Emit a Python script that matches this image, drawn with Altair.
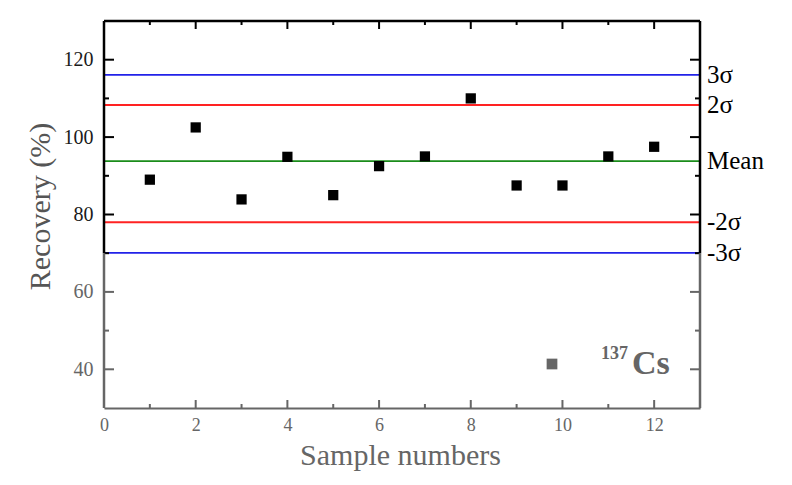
import altair as alt
import pandas as pd

# ---- data ----
samples = [1, 2, 3, 4, 5, 6, 7, 8, 9, 10, 11, 12]
recovery = [89.0, 102.5, 83.9, 94.9, 85.0, 92.5, 95.0, 110.0, 87.5, 87.5, 95.0, 97.5]

ref_labels = ["3σ", "2σ", "Mean", "-2σ", "-3σ"]
ref_values = [116.1, 108.3, 93.8, 78.0, 70.1]

x_major = [0, 2, 4, 6, 8, 10, 12]
x_minor = [1, 3, 5, 7, 9, 11]
y_major = [40, 60, 80, 100, 120]
y_minor = [50, 70, 90, 110]

legend_label = ["Cs"]
legend_super = ["137"]

# ---- styling ----
W, H = 596, 387
SERIF = "Liberation Serif"
GRAY = "#666666"
ref_colors = ["#2222e8", "#ff2222", "#1a8c1a", "#ff2222", "#2222e8"]

xs = alt.Scale(domain=[0, 13], nice=False, zero=False)
ys = alt.Scale(domain=[30, 130], nice=False, zero=False)

xaxis = alt.Axis(values=x_major, ticks=False, domain=True, domainColor=GRAY,
                 domainWidth=2, grid=False, labelFont=SERIF, labelFontSize=18,
                 labelColor=GRAY, labelPadding=8, labelFlush=False, format="d",
                 title="Sample numbers", titleFont=SERIF, titleFontSize=30,
                 titleFontWeight="normal", titleColor=GRAY,
                 titleX=296, titleY=56, titleBaseline="alphabetic")
yaxis = alt.Axis(values=y_major, ticks=False, domain=False, grid=False,
                 labelFont=SERIF, labelFontSize=20, labelPadding=11, format="d",
                 labelFlush=False,
                 labelColor=alt.ExprRef("datum.value >= 70 ? '#1a1a1a' : '#666666'"),
                 title="Recovery (%)", titleFont=SERIF, titleFontSize=30,
                 titleFontWeight="normal", titleColor="#555555",
                 titleX=-64, titleY=185, titleBaseline="middle")


def X(field):
    return alt.X(field, type="quantitative", scale=xs, axis=xaxis)


def Y(field):
    return alt.Y(field, type="quantitative", scale=ys, axis=yaxis)


pts = pd.DataFrame({"sample": samples, "rec": recovery})
refs = pd.DataFrame({"label": ref_labels, "v": ref_values})

points = alt.Chart(pts).mark_square(size=105, color="black", opacity=1).encode(
    x=X("sample"), y=Y("rec"))

ref_lines = alt.Chart(refs).mark_rule(strokeWidth=1.8).encode(
    y=Y("v"),
    color=alt.Color("label:N", scale=alt.Scale(domain=ref_labels, range=ref_colors), legend=None),
)

ref_text = alt.Chart(refs).mark_text(align="left", baseline="middle", font=SERIF,
                                     fontSize=25, color="black", dx=7).encode(
    x=alt.value(W), y=Y("v"), text="label:N")


def xticks(vals, y0, y1, color):
    return alt.Chart(pd.DataFrame({"t": vals})).mark_rule(color=color, strokeWidth=2).encode(
        x=X("t"), y=alt.value(y0), y2=alt.value(y1))


def yticks(vals, x0, x1):
    return alt.Chart(pd.DataFrame({"t": vals})).mark_rule(strokeWidth=2).encode(
        y=Y("t"), x=alt.value(x0), x2=alt.value(x1),
        color=alt.condition("datum.t >= 70", alt.value("black"), alt.value(GRAY)))


ticks = [
    xticks(x_major, H, H - 8, GRAY), xticks(x_minor, H, H - 4, GRAY),
    xticks(x_major, 0, 8, "black"), xticks(x_minor, 0, 4, "black"),
    yticks(y_major, 0, 10), yticks(y_minor, 0, 5),
    yticks(y_major, W, W - 10), yticks(y_minor, W, W - 5),
]

one = pd.DataFrame({"a": [0]})


def side(xpix, top, bottom, color):
    return alt.Chart(one).mark_rule(color=color, strokeWidth=2.5).encode(
        x=alt.value(xpix), y=alt.datum(top, scale=ys, axis=yaxis), y2=alt.datum(bottom))


frame = [
    alt.Chart(one).mark_rule(color="black", strokeWidth=2.5).encode(
        x=alt.value(0), x2=alt.value(W), y=alt.value(0)),
    side(0, 130, 70, "black"), side(0, 70, 30, GRAY),
    side(W, 130, 70, "black"), side(W, 70, 30, GRAY),
]

leg_sym = alt.Chart(one).mark_square(size=115, color=GRAY, opacity=1).encode(
    x=alt.value(448), y=alt.value(343))
leg_txt = alt.Chart(pd.DataFrame({"s": legend_label})).mark_text(
    align="left", baseline="alphabetic", font=SERIF, fontSize=34, fontWeight="bold",
    color=GRAY).encode(x=alt.value(528), y=alt.value(353), text="s:N")
leg_sup = alt.Chart(pd.DataFrame({"s": legend_super})).mark_text(
    align="left", baseline="alphabetic", font=SERIF, fontSize=18, fontWeight="bold",
    color=GRAY).encode(x=alt.value(497), y=alt.value(338), text="s:N")

chart = alt.layer(ref_lines, *ticks, *frame, points, ref_text, leg_sym, leg_txt, leg_sup).properties(
    width=W, height=H,
    autosize=alt.AutoSizeParams(type="none"),
    padding={"left": 104, "top": 21, "right": 92, "bottom": 77},
).configure_view(stroke=None).configure(background="white")

chart.save("out.html", embed_options={"renderer": "svg", "actions": False})
